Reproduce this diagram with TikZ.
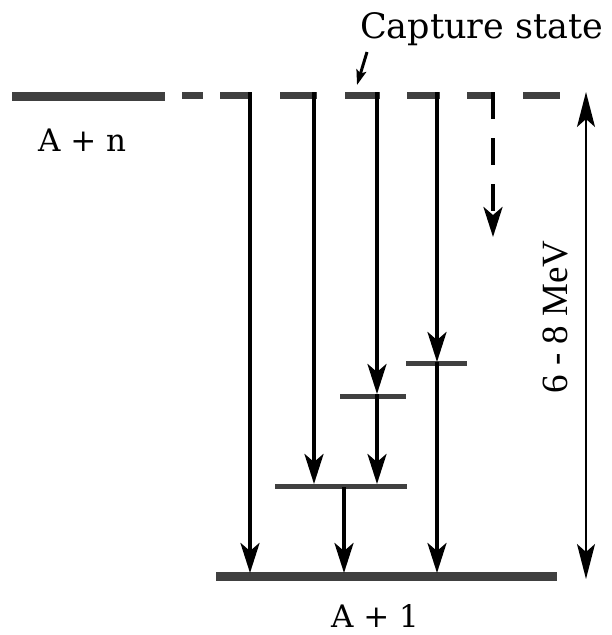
\documentclass[tikz,border=0pt]{standalone}
\usepackage{fontspec}
\setmainfont{DejaVu Serif}
\newfontfamily\timesf{Liberation Serif}
\usetikzlibrary{arrows.meta}
\begin{document}
\begin{tikzpicture}[x=1pt,y=-1pt,
  thickbar/.style={line width=9pt, draw=black!75},
  dashseg/.style={line width=7pt, draw=black!75},
  thinlvl/.style={line width=5pt, draw=black!75},
  gam/.style={line width=4pt, draw=black,
    -{Stealth[length=30pt 0,width=19pt 0,inset=8pt 0]}},
  gamdash/.style={gam, dash pattern=on 27pt off 19pt},
  dbl/.style={line width=1.8pt, draw=black,
    {Stealth[length=35pt 0,width=18pt 0,inset=8pt 0]}-{Stealth[length=35pt 0,width=18pt 0,inset=8pt 0]}},
  ptr/.style={line width=3pt, draw=black,
    -{Stealth[length=15pt 0,width=10pt 0,inset=3pt 0]}},
  lbl/.style={inner sep=0pt, font=\fontsize{31}{36}\selectfont},
]
\path[use as bounding box] (0,0) rectangle (612,635);

% ---- upper level A+n (dashed continuation) ----
\draw[thickbar] (12,96) -- (165,96);
\foreach \a/\b in {182/203,220/252,280/317,345/380,407/440,467/495,523/560}
  \draw[dashseg] (\a,95) -- (\b,95);

% ---- lower levels ----
\draw[thickbar] (216,576) -- (557,576);
\draw[thinlvl] (406,363) -- (467,363);
\draw[thinlvl] (340,396) -- (406,396);
\draw[thinlvl] (275,486) -- (407,486);

% ---- coordinates ----
\coordinate (s1) at (250,92);
\coordinate (s2) at (314,92);
\coordinate (s3) at (377,92);
\coordinate (s4) at (437,92);
\coordinate (s5) at (493,92);
\coordinate (m3) at (437,362);
\coordinate (m2) at (377,394);
\coordinate (m1a) at (314,484);
\coordinate (m1b) at (377,484);
\coordinate (m1c) at (344,487);
\coordinate (b1) at (250,573);
\coordinate (b2) at (344,573);
\coordinate (b3) at (437,573);
\coordinate (d5) at (493,237);
\coordinate (e1) at (586,92);
\coordinate (e2) at (586,579);
\coordinate (c1) at (367,52);
\coordinate (c2) at (357,85);

% ---- transitions ----
\draw[gam] (s1) -- (b1);
\draw[gam] (s2) -- (m1a);
\draw[gam] (s3) -- (m2);
\draw[gam] (m2) -- (m1b);
\draw[gam] (s4) -- (m3);
\draw[gam] (m3) -- (b3);
\draw[gam] (m1c) -- (b2);
\draw[gamdash] (s5) -- (d5);

% ---- energy span ----
\draw[dbl] (e1) -- (e2);
\node[rotate=90, inner sep=0pt, font=\timesf\fontsize{37}{40}\selectfont] (mev) at (555,317) {6 - 8 MeV};

% ---- labels ----
\node[lbl, anchor=base west, font=\fontsize{35}{40}\selectfont] (cap) at (360,38) {Capture state};
\draw[ptr] (c1) -- (c2);
\node[lbl, anchor=base west] (an) at (38,151) {A + n};
\node[lbl, anchor=base] (a1) at (375,627) {A + 1};
\end{tikzpicture}
\end{document}
